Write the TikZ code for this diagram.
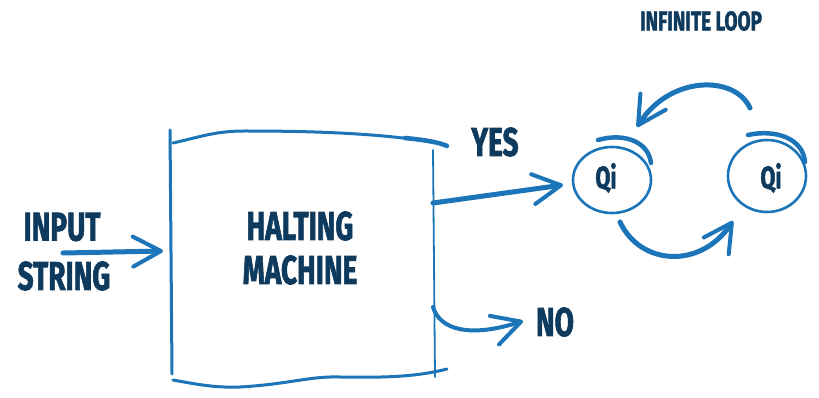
\documentclass[tikz,border=0pt]{standalone}
\usepackage{fontspec}
\setmainfont{Fira Sans}[BoldFeatures={FakeBold=2}]
\usetikzlibrary{arrows.meta}
\definecolor{lineblue}{HTML}{1B75B8}
\definecolor{txtnavy}{HTML}{0E3A5E}
\tikzset{
  lbl/.style={text=txtnavy,font=\fontsize{40}{40}\selectfont\bfseries,inner sep=0pt},
  smalllbl/.style={text=txtnavy,font=\fontsize{27}{27}\selectfont\bfseries,inner sep=0pt},
  qilbl/.style={text=txtnavy,font=\fontsize{31}{31}\selectfont\bfseries,inner sep=0pt},
  boxline/.style={draw=lineblue,line width=3pt,line cap=round},
  arrowline/.style={draw=lineblue,line width=5pt,line cap=round,
     -{Straight Barb[length=28pt,width=30pt,line width=4pt,round]}},
  circline/.style={draw=lineblue,line width=2.6pt,line cap=round},
}
\newcommand{\cnd}[1]{\scalebox{0.7}[1]{#1}}
\begin{document}
\begin{tikzpicture}[x=1pt,y=-1pt]
\useasboundingbox[fill=white] (0,0) rectangle (819,398);
% texts
\node[lbl] (input) at (62,227) {\cnd{INPUT}};
\node[lbl] (string) at (64,276) {\cnd{STRING}};
\node[lbl] (halt) at (300,226) {\cnd{HALTING}};
\node[lbl] (mach) at (300,270) {\cnd{MACHINE}};
\node[lbl] (yes) at (495,142) {\cnd{YES}};
\node[lbl] (no) at (555,322) {\cnd{NO}};
\node[smalllbl] (inf) at (701,21) {\cnd{INFINITE LOOP}};
\node[qilbl] (qa) at (606,178) {\cnd{Qi}};
\node[qilbl] (qb) at (771,178) {\cnd{Qi}};
% box corners
\coordinate (tl) at (170,130);
\coordinate (bl) at (172,374);
\coordinate (tr) at (433,150);
\coordinate (br) at (435,377);
\draw[boxline] (tl) -- (bl);
\draw[boxline,line width=1.8pt] (tr) -- (br);
\draw[boxline] (173,143) .. controls (200,137) and (215,131) .. (245,131)
   .. controls (310,131) and (390,133) .. (447,145);
\draw[boxline,line width=4.5pt] (405,138) .. controls (425,140) and (438,142) .. (447,146);
\draw[boxline] (173,380) .. controls (195,384) and (215,388) .. (240,387)
   .. controls (290,384) and (310,376) .. (340,377)
   .. controls (390,378) and (420,376) .. (447,369);
% ellipses
\draw[circline] (612,180) ellipse [x radius=39pt,y radius=33pt];
\draw[circline,line width=4.5pt] (598,140) .. controls (622,133) and (648,140) .. (651,163);
\draw[circline] (767,176) ellipse [x radius=39pt,y radius=36pt];
\draw[circline,line width=4.5pt] (748,135) .. controls (775,129) and (803,138) .. (805,162);
% arrow endpoints
\coordinate (inS) at (63,253);
\coordinate (inE) at (163,251);
\coordinate (yesS) at (433,203);
\coordinate (yesE) at (563,185);
\coordinate (noS) at (433,307);
\coordinate (noE) at (523,321);
\coordinate (topS) at (750,108);
\coordinate (topE) at (637,127);
\coordinate (botS) at (620,222);
\coordinate (botE) at (733,221);
\draw[arrowline] (inS) -- (inE);
\draw[arrowline] (yesS) -- (yesE);
\draw[arrowline,line width=4pt] (noS) .. controls (440,330) and (470,338) .. (noE);
\draw[arrowline] (topS) .. controls (735,75) and (670,75) .. (topE);
\draw[arrowline] (botS) .. controls (640,265) and (700,270) .. (botE);
\end{tikzpicture}
\end{document}
